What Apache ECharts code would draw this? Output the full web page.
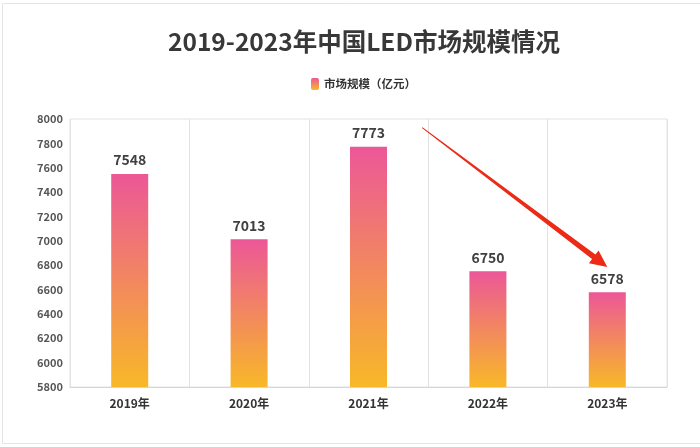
<!DOCTYPE html>
<html><head><meta charset="utf-8">
<script src="https://cdn.jsdelivr.net/npm/echarts@6/dist/echarts.min.js"></script>
<style>html,body{margin:0;padding:0;background:#fff}#c{width:700px;height:447px}</style>
</head><body><div id="c"></div>
<script>
const categories = ['2019年','2020年','2021年','2022年','2023年'];
const values = [7548, 7013, 7773, 6750, 6578];
const seriesName = '市场规模（亿元）';
const titleText = '2019-2023年中国LED市场规模情况';
// arrow annotation anchors in data space: [category index, value]
const arrowFrom = [2.45, 7930];
const arrowTo = [4, 6785];

const FONT = '"Noto Sans CJK SC", "Noto Sans", sans-serif';
const chart = echarts.init(document.getElementById('c'));
const grad = new echarts.graphic.LinearGradient(0,0,0,1,[
  {offset:0,color:'#ec5797'},{offset:1,color:'#f8b828'}]);
chart.setOption({
  animation:false,
  textStyle:{fontFamily:FONT},
  title:{text:titleText,left:163,top:24,textStyle:{fontSize:24.5,fontWeight:'bold',color:'#383838',fontFamily:FONT}},
  legend:{top:73,left:306,itemWidth:8,itemHeight:12,itemGap:5,textStyle:{fontSize:11.5,fontWeight:'bold',color:'#333',fontFamily:FONT},data:[seriesName]},
  grid:{left:70,right:33,top:119,bottom:60,show:true,borderColor:'#e2e2e2',borderWidth:1},
  xAxis:{type:'category',data:categories,
    axisLine:{lineStyle:{color:'#d6d6d6'}},axisTick:{show:false},
    splitLine:{show:true,lineStyle:{color:'#e2e2e2'}},
    axisLabel:{fontSize:12,fontWeight:'bold',color:'#333',margin:10,fontFamily:FONT}},
  yAxis:{type:'value',min:5800,max:8000,interval:200,
    splitLine:{show:false},axisLine:{show:false},axisTick:{show:false},
    axisLabel:{fontSize:11,fontWeight:'bold',color:'#555',margin:7,fontFamily:FONT,formatter:v=>String(v)}},
  series:[{name:seriesName,type:'bar',data:values,barWidth:37,
    itemStyle:{color:grad},
    label:{show:true,position:'top',distance:7,fontSize:14,fontWeight:'bold',color:'#404040',fontFamily:FONT}}]
});
function px(p){
  const i0=Math.floor(p[0]), i1=Math.min(i0+1,categories.length-1);
  const a=chart.convertToPixel({xAxisIndex:0},categories[i0]);
  let x=a;
  if(i1!==i0){const b=chart.convertToPixel({xAxisIndex:0},categories[i1]);x=a+(b-a)*(p[0]-i0);}
  const y=chart.convertToPixel({yAxisIndex:0},p[1]);
  return [x,y];
}
const s=px(arrowFrom), e=px(arrowTo);
const dx=e[0]-s[0], dy=e[1]-s[1], L=Math.hypot(dx,dy), ux=dx/L, uy=dy/L, nx=-uy, ny=ux;
const headLen=17, headW=8, w0=0.5, w1=2.8;
const hb=[e[0]-ux*headLen, e[1]-uy*headLen];
const pts=[
  [s[0]+nx*w0,s[1]+ny*w0],
  [hb[0]+nx*w1,hb[1]+ny*w1],
  [hb[0]+nx*headW,hb[1]+ny*headW],
  [e[0],e[1]],
  [hb[0]-nx*headW,hb[1]-ny*headW],
  [hb[0]-nx*w1,hb[1]-ny*w1],
  [s[0]-nx*w0,s[1]-ny*w0]
];
chart.setOption({graphic:[
  {type:'rect',left:0,top:1,shape:{width:699,height:440},style:{fill:'none',stroke:'#e4e4e4',lineWidth:1},silent:true,z:-1},
  {type:'polygon',shape:{points:pts},style:{fill:'#ec2b17'},z:100}
]});
</script></body></html>
